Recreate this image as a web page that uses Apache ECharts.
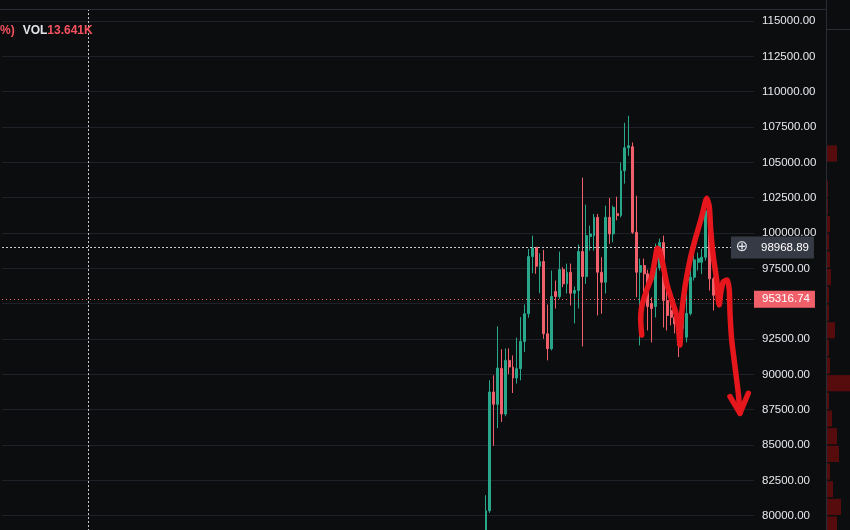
<!DOCTYPE html>
<html><head><meta charset="utf-8">
<script src="https://cdn.jsdelivr.net/npm/echarts@6/dist/echarts.min.js"></script>
<style>html,body{margin:0;padding:0;background:#0c0d0f;}#c{width:850px;height:530px;}</style>
</head><body><div id="c"></div>
<script>
// ---- data ----
const opens = [78500, 80350, 88750, 87880, 90420, 87190, 90989, 90518, 89739, 90403,
  92331, 94287, 98333, 98990, 97648, 97980, 92874, 91815, 95862, 95508,
  97415, 96405, 97225, 95742, 95932, 98686, 96921, 99746, 99816, 101109,
  97225, 96518, 101109, 99936, 101370, 101229, 104407, 106031, 106102, 100050,
  97225, 97698, 97111, 95014, 94802, 97556, 99322, 95226, 94520, 94047,
  93581, 93249, 92634, 94308, 96872, 97931, 97931, 98284, 101582, 96758, 95600];
const highs = [81450, 89580, 89930, 93390, 91780, 91836, 91836, 91342, 92592, 94047,
  94944, 98877, 99817, 99000, 98566, 98807, 94944, 97345, 96638, 98686,
  97578, 97839, 97839, 96215, 99181, 103912, 102006, 100523, 101349, 101349,
  98284, 101935, 102479, 101935, 102571, 104993, 107797, 108291, 106405, 102641,
  98192, 98192, 97400, 95438, 99251, 99605, 99816, 95932, 95014, 94520,
  93960, 94300, 95720, 97698, 98757, 98616, 98898, 101935, 101935, 96900, 96100];
const lows = [78200, 80200, 84940, 86190, 86630, 87034, 90010, 88680, 89343, 89576,
  91575, 94004, 97154, 97112, 95742, 92521, 90989, 91695, 94661, 95346,
  96165, 95720, 94873, 93602, 94661, 91977, 96405, 98757, 98757, 94167,
  94287, 95720, 99230, 99343, 100900, 101109, 103489, 105466, 99936, 95459,
  92048, 95438, 93107, 92260, 94025, 97345, 93319, 93107, 93461, 92895,
  91222, 92400, 92260, 94167, 96638, 97345, 97100, 98050, 95932, 94520, 94800];
const closes = [80350, 88750, 87880, 90445, 87190, 90989, 90518, 89739, 90403, 92331,
  94287, 98333, 98947, 97648, 97980, 92874, 91815, 95508, 95508, 97415,
  96405, 97225, 95742, 95932, 98686, 96921, 99816, 99936, 101109, 97225,
  96518, 101109, 99936, 101815, 101229, 104407, 106031, 106173, 100050, 97225,
  97698, 97111, 94802, 94661, 97556, 99322, 95226, 94167, 94047, 93581,
  92048, 93814, 94308, 96872, 98100, 98192, 98284, 101582, 96758, 95600, 95316.74];

const lastPrice = 95316.74;
const crosshairPrice = 98968.89;
const crosshairSlot = 21.8;

// price-axis ticks
const priceMin = 77500, priceMax = 117500, priceStep = 2500;

// volume profile (right strip), bins of 1250 from bottom to top
const profileLevels = ['78750','80000','81250','82500','83750','85000','86250','87500','88750','90000',
  '91250','92500','93750','95000','96250','97500','98750','100000','101250','102500',
  '103750','105000','106250','107500','108750','110000','111250','112500','113750','115000'];
const profileVolume = [10, 14, 6, 3, 12, 10, 5, 2, 24, 3,
  2, 8, 2, 2, 4, 3, 2, 3, 1, 1,
  0, 10, 0, 0, 0, 0, 0, 0, 0, 0];

// hand-drawn red annotation (slot index, price)
const strokeX = [165.38, 165.12, 165.38, 166.67, 167.97, 168.83, 169.43, 169.94, 170.82, 171.86,
  173.16, 174.27, 174.87, 175.31, 175.49, 175.75, 176.61, 177.90, 179.20, 180.94,
  182.24, 182.91, 183.27, 183.95, 184.83, 185.24, 185.50, 185.86, 186.54, 187.58,
  188.09, 188.28, 188.72, 189.57, 190.43, 190.87];
const strokeY = [92785, 93846, 94787, 95968, 96909, 98091, 98919, 98798, 97857, 96442,
  95261, 94320, 93372, 92077, 93138, 94320, 96202, 98091, 99506, 101154,
  102456, 101862, 100213, 98324, 96676, 95261, 94907, 95735, 96555, 96676,
  95968, 94320, 92431, 90542, 88660, 87245];
const headX = [188.28, 190.87, 193.02];
const headY = [88419, 87245, 88660];

// ---- chart ----
const slots = 195, firstSlot = 125;
const categories = Array.from({length: slots}, (_, i) => 'b' + i);
const candleData = opens.map((o, i) => [firstSlot + i, o, closes[i], lows[i], highs[i]]);

const BG = '#0c0d0f';
const UP = '#29a78b', DOWN = '#f0606b';
const LINE = '#2a2d35';
const AXIS_FONT = 'Liberation Sans, Arial, sans-serif';

const chart = echarts.init(document.getElementById('c'));
chart.setOption({
  backgroundColor: BG,
  animation: false,
  title: {
    left: -5, top: 20,
    text: '{a|%)}{b|VOL}{c|13.641K}',
    textStyle: { rich: {
      a: { color: '#f7525f', fontSize: 12, fontFamily: AXIS_FONT },
      b: { color: '#e2e4ea', fontSize: 12, fontFamily: AXIS_FONT, padding: [0, 0, 0, 8] },
      c: { color: '#f7525f', fontSize: 12, fontFamily: AXIS_FONT }
    }}
  },
  grid: [
    { left: 2, right: 96, top: -14.34, bottom: -21.04, containLabel: false, outerBoundsMode: 'none' },
    { left: 827, right: 0, top: 3.33, bottom: -3.4, containLabel: false, outerBoundsMode: 'none' }
  ],
  xAxis: [
    { type: 'category', gridIndex: 0, data: categories, boundaryGap: true, show: false },
    { type: 'value', gridIndex: 0, min: -0.5, max: slots - 0.5, show: false },
    { type: 'value', gridIndex: 1, min: 0, max: 23, show: false }
  ],
  yAxis: [
    { type: 'value', gridIndex: 0, position: 'right', min: priceMin, max: priceMax, interval: priceStep,
      axisLine: { show: false }, axisTick: { show: false },
      splitLine: { lineStyle: { color: '#1e2128', width: 1 } },
      axisLabel: { margin: 8, color: '#e6e8ec', fontSize: 11.5, fontFamily: AXIS_FONT,
        formatter: v => (Math.abs(v - lastPrice) < 1000 ? '' : v.toFixed(2)) } },
    { type: 'category', gridIndex: 1, data: profileLevels, show: false }
  ],
  graphic: [
    { type: 'rect', z: 100, silent: true, shape: { x: 0, y: 0, width: 850, height: 9 }, style: { fill: BG } },
    { type: 'line', z: 101, silent: true, shape: { x1: 0, y1: 9.5, x2: 826, y2: 9.5 }, style: { stroke: LINE, lineWidth: 1 } },
    { type: 'rect', z: 100, silent: true, shape: { x: 826, y: 0, width: 24, height: 29 }, style: { fill: BG } },
    { type: 'line', z: 101, silent: true, shape: { x1: 826, y1: 29.5, x2: 850, y2: 29.5 }, style: { stroke: LINE, lineWidth: 1 } },
    { type: 'line', z: 101, silent: true, shape: { x1: 826.5, y1: 0, x2: 826.5, y2: 530 }, style: { stroke: LINE, lineWidth: 1 } }
  ],
  series: [
    {
      type: 'candlestick', xAxisIndex: 0, yAxisIndex: 0,
      data: candleData, encode: { x: 0, y: [1, 2, 3, 4] },
      barWidth: 2.4,
      itemStyle: { color: UP, color0: DOWN, borderColor: UP, borderColor0: DOWN, borderWidth: 1 },
      markLine: {
        symbol: ['none', 'none'], silent: true, animation: false,
        data: [
          { yAxis: crosshairPrice,
            lineStyle: { color: '#c9cbd1', type: [2, 2], width: 1 },
            label: { show: true, position: 'end', distance: -23,
              formatter: p => '{btn|\u2295}{val|' + p.value.toFixed(2) + '}',
              backgroundColor: '#363a45', padding: [0, 5, 0, 0],
              rich: {
                btn: { width: 22, align: 'center', fontSize: 15, fontFamily: 'DejaVu Sans', color: '#e6e8ee', lineHeight: 22 },
                val: { fontSize: 11.5, fontFamily: AXIS_FONT, color: '#ffffff', padding: [0, 0, 0, 8], lineHeight: 22 }
              } } },
          { yAxis: lastPrice,
            lineStyle: { color: DOWN, type: [1, 3], width: 1 },
            label: { show: true, position: 'end', distance: 0,
              formatter: p => p.value.toFixed(2),
              backgroundColor: DOWN, color: '#ffffff', padding: [2, 5, 2, 8],
              fontSize: 11.5, fontFamily: AXIS_FONT, lineHeight: 13 } }
        ]
      }
    },
    {
      type: 'line', xAxisIndex: 1, yAxisIndex: 0, z: 10,
      data: strokeX.map((x, i) => [x, strokeY[i]]),
      smooth: 0.2, symbol: 'none',
      lineStyle: { color: '#e5161c', width: 5.5, cap: 'round', join: 'round' },
      markLine: {
        symbol: ['none', 'none'], silent: true, animation: false,
        data: [{ xAxis: crosshairSlot, lineStyle: { color: '#c9cbd1', type: [2, 2], width: 1 }, label: { show: false } }]
      }
    },
    {
      type: 'line', xAxisIndex: 1, yAxisIndex: 0, z: 10,
      data: headX.map((x, i) => [x, headY[i]]),
      symbol: 'none',
      lineStyle: { color: '#e5161c', width: 5.5, cap: 'round', join: 'round' }
    },
    {
      type: 'bar', xAxisIndex: 2, yAxisIndex: 1,
      data: profileVolume, barCategoryGap: '8%',
      itemStyle: { color: '#560b0d' }
    }
  ]
});
</script>
</body></html>
